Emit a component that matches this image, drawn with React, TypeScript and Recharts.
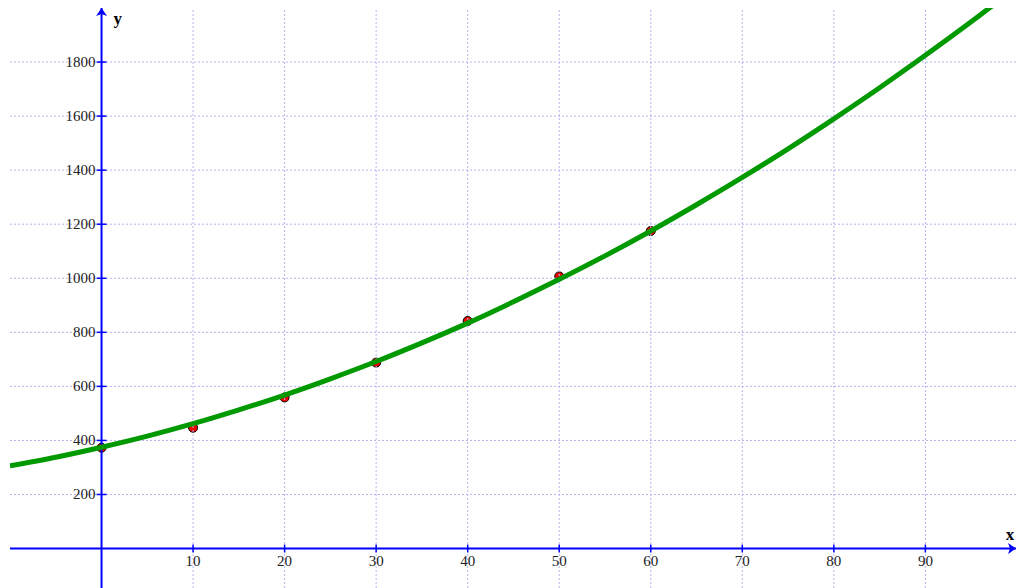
import {
  ComposedChart,
  Line,
  ReferenceDot,
  ReferenceLine,
  Scatter,
  XAxis,
  YAxis,
} from "recharts";

// measured points (red dots)
const pointX = [0, 10, 20, 30, 40, 50, 60];
const pointY = [373, 447, 559, 688, 842, 1007, 1175];

// green fitted curve, every 5 units
const curveX = [-10, -5, 0, 5, 10, 15, 20, 25, 30, 35, 40, 45, 50, 55, 60, 65, 70, 75, 80, 85, 90, 95, 100];
const curveY = [306, 338, 375, 416, 462, 513, 568, 628, 692, 761, 834, 913, 996, 1083, 1175, 1272, 1373, 1479, 1590, 1705, 1825, 1949, 2078];

const xTicks = [10, 20, 30, 40, 50, 60, 70, 80, 90];
const yTicks = [200, 400, 600, 800, 1000, 1200, 1400, 1600, 1800];

const X_MIN = -10;
const X_MAX = 99.9;
const Y_MIN = -146;
const Y_MAX = 2000;

const AXIS = "#0000ff";
const GRID = "#b4b4f0";
const FONT = "'Liberation Serif', 'DejaVu Serif', serif";

const points = pointX.map((x, i) => ({ x, y: pointY[i] }));
const curve = curveX.map((x, i) => ({ x, y: curveY[i] }));

function XTick(props: any) {
  const { cx, cy, label } = props;
  return (
    <g>
      <line x1={cx} y1={cy - 4} x2={cx} y2={cy + 4} stroke={AXIS} strokeWidth={1.5} />
      <text x={cx} y={cy + 17} textAnchor="middle" fontFamily={FONT} fontSize={15} fill="#222">
        {label}
      </text>
    </g>
  );
}

function YTick(props: any) {
  const { cx, cy, label } = props;
  return (
    <g>
      <line x1={cx - 5} y1={cy} x2={cx + 5} y2={cy} stroke={AXIS} strokeWidth={1.5} />
      <text x={cx - 6} y={cy + 5} textAnchor="end" fontFamily={FONT} fontSize={15} fill="#222">
        {label}
      </text>
    </g>
  );
}

function UpArrow(props: any) {
  const { cx, cy } = props;
  return (
    <g>
      <path d={`M${cx},${cy} L${cx + 5.5},${cy + 8} L${cx},${cy + 6} L${cx - 5.5},${cy + 8} Z`} fill={AXIS} />
      <text x={cx + 12} y={cy + 16} fontFamily={FONT} fontSize={17} fontWeight="bold" fill="#000">
        y
      </text>
    </g>
  );
}

function RightArrow(props: any) {
  const { cx, cy } = props;
  return (
    <g>
      <path d={`M${cx},${cy} L${cx - 8},${cy - 5.5} L${cx - 6},${cy} L${cx - 8},${cy + 5.5} Z`} fill={AXIS} />
      <text x={cx - 6} y={cy - 9} textAnchor="middle" fontFamily={FONT} fontSize={17} fontWeight="bold" fill="#000">
        x
      </text>
    </g>
  );
}

export default function App() {
  return (
    <div style={{ position: "absolute", left: 0, top: 0, background: "#fff" }}>
      <ComposedChart width={1016} height={588} margin={{ top: 8, right: 0, bottom: 0, left: 10 }}>
        <XAxis type="number" dataKey="x" domain={[X_MIN, X_MAX]} allowDataOverflow hide />
        <YAxis type="number" dataKey="y" domain={[Y_MIN, Y_MAX]} allowDataOverflow hide />
        {xTicks.map((t) => (
          <ReferenceLine key={`gx${t}`} x={t} stroke={GRID} strokeDasharray="2 2" />
        ))}
        {yTicks.map((t) => (
          <ReferenceLine key={`gy${t}`} y={t} stroke={GRID} strokeDasharray="2 2" />
        ))}
        <ReferenceLine x={0} stroke={AXIS} strokeWidth={2} ifOverflow="visible" />
        <ReferenceLine y={0} stroke={AXIS} strokeWidth={2} ifOverflow="visible" />
        {xTicks.map((t) => (
          <ReferenceDot
            key={`xt${t}`}
            x={t}
            y={0}
            ifOverflow="visible"
            shape={(p: any) => <XTick {...p} label={t} />}
          />
        ))}
        {yTicks.map((t) => (
          <ReferenceDot
            key={`yt${t}`}
            x={0}
            y={t}
            ifOverflow="visible"
            shape={(p: any) => <YTick {...p} label={t} />}
          />
        ))}
        <ReferenceDot x={0} y={Y_MAX} ifOverflow="visible" shape={(p: any) => <UpArrow {...p} />} />
        <ReferenceDot x={X_MAX} y={0} ifOverflow="visible" shape={(p: any) => <RightArrow {...p} />} />
        <Scatter
          data={points}
          dataKey="y"
          isAnimationActive={false}
          zIndex={300}
          shape={(p: any) => <circle cx={p.cx} cy={p.cy} r={4.5} fill="#ee0000" stroke="#000" strokeWidth={1} />}
        />
        <Line
          data={curve}
          dataKey="y"
          type="monotone"
          stroke="#009900"
          strokeWidth={5}
          dot={false}
          activeDot={false}
          isAnimationActive={false}
        />
      </ComposedChart>
    </div>
  );
}
